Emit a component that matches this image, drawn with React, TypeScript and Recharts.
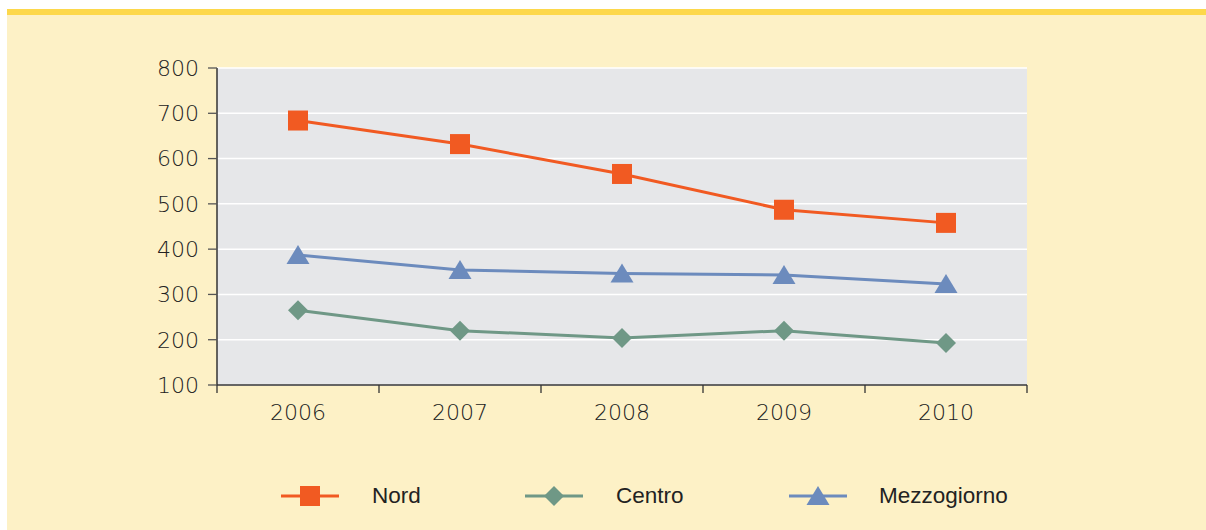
import { LineChart, Line, XAxis, YAxis, CartesianGrid } from "recharts";

const years = ["2006", "2007", "2008", "2009", "2010"];
const nord = [684, 632, 566, 487, 458];
const centro = [265, 220, 204, 220, 193];
const mezzogiorno = [387, 354, 346, 343, 323];
const yTicks = [100, 200, 300, 400, 500, 600, 700, 800];

const data = years.map((year, i) => ({
  year,
  nord: nord[i],
  centro: centro[i],
  mezzogiorno: mezzogiorno[i],
}));

const COLORS = { nord: "#f15a22", centro: "#6f9886", mezzogiorno: "#6c8bbd" };
const TICK_FONT = "'DejaVu Sans', sans-serif";
const HALF_BAND = 81;

function Square({ cx, cy, fill }: any) {
  return <rect x={cx - 10} y={cy - 10} width={20} height={20} fill={fill} />;
}
function Diamond({ cx, cy, fill }: any) {
  return <polygon points={`${cx},${cy - 10} ${cx + 10},${cy} ${cx},${cy + 10} ${cx - 10},${cy}`} fill={fill} />;
}
function Triangle({ cx, cy, fill }: any) {
  return <polygon points={`${cx},${cy - 10} ${cx + 11.5},${cy + 9} ${cx - 11.5},${cy + 9}`} fill={fill} />;
}

const XTick = (props: any) => {
  const { x, y, payload, index } = props;
  return (
    <g>
      <line x1={x - HALF_BAND} x2={x - HALF_BAND} y1={y} y2={y + 8} stroke="#333" strokeWidth={1.3} />
      {index === years.length - 1 && (
        <line x1={x + HALF_BAND} x2={x + HALF_BAND} y1={y} y2={y + 8} stroke="#333" strokeWidth={1.3} />
      )}
      <text x={x} y={y + 35} textAnchor="middle" fill="#222" fontSize={22} fontWeight={200} fontFamily={TICK_FONT}>
        {payload.value}
      </text>
    </g>
  );
};

const legendItems = [
  { label: "Nord", color: COLORS.nord, Shape: Square, cx: 310, tx: 372 },
  { label: "Centro", color: COLORS.centro, Shape: Diamond, cx: 554, tx: 616 },
  { label: "Mezzogiorno", color: COLORS.mezzogiorno, Shape: Triangle, cx: 818, tx: 879 },
];

export default function App() {
  return (
    <div style={{ position: "absolute", left: 0, top: 0, width: 1206, height: 530, background: "#fff" }}>
      <div style={{ position: "absolute", left: 7, top: 9, right: 0, bottom: 0, background: "#fdf1c6" }} />
      <div style={{ position: "absolute", left: 7, top: 9, right: 0, height: 6, background: "#fdd84b" }} />
      <div style={{ position: "absolute", left: 0, top: 0 }}>
        <LineChart width={1206} height={530} data={data} margin={{ top: 68, right: 179, left: 0, bottom: 85 }}>
          <CartesianGrid vertical={false} stroke="#ffffff" strokeWidth={1.5} fill="#e6e7e9" />
          <XAxis
            dataKey="year"
            padding={{ left: HALF_BAND, right: HALF_BAND }}
            axisLine={{ stroke: "#333", strokeWidth: 1.5 }}
            tickLine={false}
            tickSize={0}
            tickMargin={0}
            height={60}
            tick={<XTick />}
            interval={0}
          />
          <YAxis
            width={217}
            domain={[100, 800]}
            ticks={yTicks}
            interval={0}
            axisLine={{ stroke: "#333", strokeWidth: 1.5 }}
            tickLine={{ stroke: "#555", strokeWidth: 1.3 }}
            tickSize={9}
            tickMargin={9}
            tick={{ fill: "#222", fontSize: 22, fontWeight: 200, fontFamily: TICK_FONT }}
          />
          <Line
            dataKey="nord"
            stroke={COLORS.nord}
            strokeWidth={3}
            isAnimationActive={false}
            dot={(p: any) => <Square key={`n${p.index}`} cx={p.cx} cy={p.cy} fill={COLORS.nord} />}
            activeDot={false}
          />
          <Line
            dataKey="centro"
            stroke={COLORS.centro}
            strokeWidth={3}
            isAnimationActive={false}
            dot={(p: any) => <Diamond key={`c${p.index}`} cx={p.cx} cy={p.cy} fill={COLORS.centro} />}
            activeDot={false}
          />
          <Line
            dataKey="mezzogiorno"
            stroke={COLORS.mezzogiorno}
            strokeWidth={3}
            isAnimationActive={false}
            dot={(p: any) => <Triangle key={`m${p.index}`} cx={p.cx} cy={p.cy} fill={COLORS.mezzogiorno} />}
            activeDot={false}
          />
        </LineChart>
      </div>
      <svg style={{ position: "absolute", left: 0, top: 0 }} width={1206} height={530}>
        {legendItems.map(({ label, color, Shape, cx, tx }) => (
          <g key={label}>
            <line x1={cx - 29} x2={cx + 29} y1={496} y2={496} stroke={color} strokeWidth={3} />
            <Shape cx={cx} cy={496} fill={color} />
            <text x={tx} y={503} fill="#222" fontSize={22.5} fontFamily="'Liberation Sans', Arial, sans-serif">
              {label}
            </text>
          </g>
        ))}
      </svg>
    </div>
  );
}
